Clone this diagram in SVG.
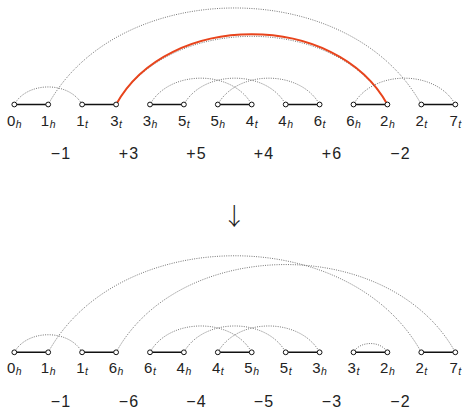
<svg xmlns="http://www.w3.org/2000/svg" width="462" height="408" viewBox="0 0 462 408">
<style>
.arc{fill:none;stroke:#666;stroke-width:0.9;stroke-dasharray:1 1.3}
.red{fill:none;stroke:#e8441c;stroke-width:2}
.edge{stroke:#111;stroke-width:1.4}
.nd{fill:#fff;stroke:#111;stroke-width:1}
.lbl{font-family:"Liberation Sans","DejaVu Sans",sans-serif;font-size:15px;fill:#222;text-anchor:middle}
.sub{font-size:10.5px;font-style:italic}
.num{font-family:"Liberation Sans","DejaVu Sans",sans-serif;font-size:16px;fill:#222;text-anchor:middle;letter-spacing:1.2px}
.arr{font-family:"Noto Sans CJK JP","DejaVu Sans",sans-serif;font-size:24px;font-weight:300;fill:#222;text-anchor:middle}
</style>
<rect width="462" height="408" fill="#fff"/>
<g id="connectors">
  <path class="arc" d="M14.3 104.5 C27.2 81.1 69.2 81.1 82.1 104.5"/>
  <path class="arc" d="M48.2 104.5 C119.1 -24.2 350.4 -24.2 421.3 104.5"/>
  <path class="arc" d="M116.1 104.5 C167.6 13.6 335.9 13.6 387.4 104.5"/>
  <path class="red" d="M116.1 104.5 C167.6 10.9 335.9 10.9 387.4 104.5"/>
  <path class="arc" d="M150 104.5 C169.3 69.4 232.4 69.4 251.7 104.5"/>
  <path class="arc" d="M183.9 104.5 C203.2 69.4 266.4 69.4 285.7 104.5"/>
  <path class="arc" d="M217.8 104.5 C237.1 69.4 300.3 69.4 319.6 104.5"/>
  <path class="arc" d="M353.5 104.5 C372.8 69.4 436 69.4 455.3 104.5"/>
  <line class="edge" x1="14.3" y1="104.5" x2="48.2" y2="104.5"/>
  <line class="edge" x1="82.1" y1="104.5" x2="116.1" y2="104.5"/>
  <line class="edge" x1="150" y1="104.5" x2="183.9" y2="104.5"/>
  <line class="edge" x1="217.8" y1="104.5" x2="251.7" y2="104.5"/>
  <line class="edge" x1="285.7" y1="104.5" x2="319.6" y2="104.5"/>
  <line class="edge" x1="353.5" y1="104.5" x2="387.4" y2="104.5"/>
  <line class="edge" x1="421.3" y1="104.5" x2="455.3" y2="104.5"/>

  <path class="arc" d="M14.3 352.3 C27.2 328.9 69.2 328.9 82.1 352.3"/>
  <path class="arc" d="M48.2 352.3 C119.1 223.6 350.4 223.6 421.3 352.3"/>
  <path class="arc" d="M116.1 352.3 C180.5 235.3 390.9 235.3 455.3 352.3"/>
  <path class="arc" d="M150 352.3 C169.3 317.2 232.4 317.2 251.7 352.3"/>
  <path class="arc" d="M183.9 352.3 C203.2 317.2 266.4 317.2 285.7 352.3"/>
  <path class="arc" d="M217.8 352.3 C237.1 317.2 300.3 317.2 319.6 352.3"/>
  <path class="arc" d="M353.5 352.3 C359.9 340.6 381 340.6 387.4 352.3"/>
  <line class="edge" x1="14.3" y1="352.3" x2="48.2" y2="352.3"/>
  <line class="edge" x1="82.1" y1="352.3" x2="116.1" y2="352.3"/>
  <line class="edge" x1="150" y1="352.3" x2="183.9" y2="352.3"/>
  <line class="edge" x1="217.8" y1="352.3" x2="251.7" y2="352.3"/>
  <line class="edge" x1="285.7" y1="352.3" x2="319.6" y2="352.3"/>
  <line class="edge" x1="353.5" y1="352.3" x2="387.4" y2="352.3"/>
  <line class="edge" x1="421.3" y1="352.3" x2="455.3" y2="352.3"/>
</g>
<g id="top-row">
  <g id="t0"><circle class="nd" cx="14.3" cy="104.5" r="2.4"/><text class="lbl" x="14.3" y="126">0<tspan class="sub" dx="0.5" dy="1.8">h</tspan></text></g>
  <g id="t1"><circle class="nd" cx="48.2" cy="104.5" r="2.4"/><text class="lbl" x="48.2" y="126">1<tspan class="sub" dx="0.5" dy="1.8">h</tspan></text></g>
  <g id="t2"><circle class="nd" cx="82.1" cy="104.5" r="2.4"/><text class="lbl" x="82.1" y="126">1<tspan class="sub" dx="0.5" dy="1.8">t</tspan></text></g>
  <g id="t3"><circle class="nd" cx="116.1" cy="104.5" r="2.4"/><text class="lbl" x="116.1" y="126">3<tspan class="sub" dx="0.5" dy="1.8">t</tspan></text></g>
  <g id="t4"><circle class="nd" cx="150" cy="104.5" r="2.4"/><text class="lbl" x="150" y="126">3<tspan class="sub" dx="0.5" dy="1.8">h</tspan></text></g>
  <g id="t5"><circle class="nd" cx="183.9" cy="104.5" r="2.4"/><text class="lbl" x="183.9" y="126">5<tspan class="sub" dx="0.5" dy="1.8">t</tspan></text></g>
  <g id="t6"><circle class="nd" cx="217.8" cy="104.5" r="2.4"/><text class="lbl" x="217.8" y="126">5<tspan class="sub" dx="0.5" dy="1.8">h</tspan></text></g>
  <g id="t7"><circle class="nd" cx="251.7" cy="104.5" r="2.4"/><text class="lbl" x="251.7" y="126">4<tspan class="sub" dx="0.5" dy="1.8">t</tspan></text></g>
  <g id="t8"><circle class="nd" cx="285.7" cy="104.5" r="2.4"/><text class="lbl" x="285.7" y="126">4<tspan class="sub" dx="0.5" dy="1.8">h</tspan></text></g>
  <g id="t9"><circle class="nd" cx="319.6" cy="104.5" r="2.4"/><text class="lbl" x="319.6" y="126">6<tspan class="sub" dx="0.5" dy="1.8">t</tspan></text></g>
  <g id="t10"><circle class="nd" cx="353.5" cy="104.5" r="2.4"/><text class="lbl" x="353.5" y="126">6<tspan class="sub" dx="0.5" dy="1.8">h</tspan></text></g>
  <g id="t11"><circle class="nd" cx="387.4" cy="104.5" r="2.4"/><text class="lbl" x="387.4" y="126">2<tspan class="sub" dx="0.5" dy="1.8">h</tspan></text></g>
  <g id="t12"><circle class="nd" cx="421.3" cy="104.5" r="2.4"/><text class="lbl" x="421.3" y="126">2<tspan class="sub" dx="0.5" dy="1.8">t</tspan></text></g>
  <g id="t13"><circle class="nd" cx="455.3" cy="104.5" r="2.4"/><text class="lbl" x="455.3" y="126">7<tspan class="sub" dx="0.5" dy="1.8">t</tspan></text></g>
</g>
<g id="top-signs">
  <text class="num" x="61" y="159">−1</text>
  <text class="num" x="129" y="159">+3</text>
  <text class="num" x="196.5" y="159">+5</text>
  <text class="num" x="264" y="159">+4</text>
  <text class="num" x="332" y="159">+6</text>
  <text class="num" x="400.5" y="159">−2</text>
</g>
<g id="arrow">
  <text class="arr" x="234.3" y="225">↓</text>
</g>
<g id="bottom-row">
  <g id="b0"><circle class="nd" cx="14.3" cy="352.3" r="2.4"/><text class="lbl" x="14.3" y="373">0<tspan class="sub" dx="0.5" dy="1.8">h</tspan></text></g>
  <g id="b1"><circle class="nd" cx="48.2" cy="352.3" r="2.4"/><text class="lbl" x="48.2" y="373">1<tspan class="sub" dx="0.5" dy="1.8">h</tspan></text></g>
  <g id="b2"><circle class="nd" cx="82.1" cy="352.3" r="2.4"/><text class="lbl" x="82.1" y="373">1<tspan class="sub" dx="0.5" dy="1.8">t</tspan></text></g>
  <g id="b3"><circle class="nd" cx="116.1" cy="352.3" r="2.4"/><text class="lbl" x="116.1" y="373">6<tspan class="sub" dx="0.5" dy="1.8">h</tspan></text></g>
  <g id="b4"><circle class="nd" cx="150" cy="352.3" r="2.4"/><text class="lbl" x="150" y="373">6<tspan class="sub" dx="0.5" dy="1.8">t</tspan></text></g>
  <g id="b5"><circle class="nd" cx="183.9" cy="352.3" r="2.4"/><text class="lbl" x="183.9" y="373">4<tspan class="sub" dx="0.5" dy="1.8">h</tspan></text></g>
  <g id="b6"><circle class="nd" cx="217.8" cy="352.3" r="2.4"/><text class="lbl" x="217.8" y="373">4<tspan class="sub" dx="0.5" dy="1.8">t</tspan></text></g>
  <g id="b7"><circle class="nd" cx="251.7" cy="352.3" r="2.4"/><text class="lbl" x="251.7" y="373">5<tspan class="sub" dx="0.5" dy="1.8">h</tspan></text></g>
  <g id="b8"><circle class="nd" cx="285.7" cy="352.3" r="2.4"/><text class="lbl" x="285.7" y="373">5<tspan class="sub" dx="0.5" dy="1.8">t</tspan></text></g>
  <g id="b9"><circle class="nd" cx="319.6" cy="352.3" r="2.4"/><text class="lbl" x="319.6" y="373">3<tspan class="sub" dx="0.5" dy="1.8">h</tspan></text></g>
  <g id="b10"><circle class="nd" cx="353.5" cy="352.3" r="2.4"/><text class="lbl" x="353.5" y="373">3<tspan class="sub" dx="0.5" dy="1.8">t</tspan></text></g>
  <g id="b11"><circle class="nd" cx="387.4" cy="352.3" r="2.4"/><text class="lbl" x="387.4" y="373">2<tspan class="sub" dx="0.5" dy="1.8">h</tspan></text></g>
  <g id="b12"><circle class="nd" cx="421.3" cy="352.3" r="2.4"/><text class="lbl" x="421.3" y="373">2<tspan class="sub" dx="0.5" dy="1.8">t</tspan></text></g>
  <g id="b13"><circle class="nd" cx="455.3" cy="352.3" r="2.4"/><text class="lbl" x="455.3" y="373">7<tspan class="sub" dx="0.5" dy="1.8">t</tspan></text></g>
</g>
<g id="bottom-signs">
  <text class="num" x="61" y="406.5">−1</text>
  <text class="num" x="129" y="406.5">−6</text>
  <text class="num" x="196.5" y="406.5">−4</text>
  <text class="num" x="264" y="406.5">−5</text>
  <text class="num" x="332" y="406.5">−3</text>
  <text class="num" x="400.5" y="406.5">−2</text>
</g>
</svg>
